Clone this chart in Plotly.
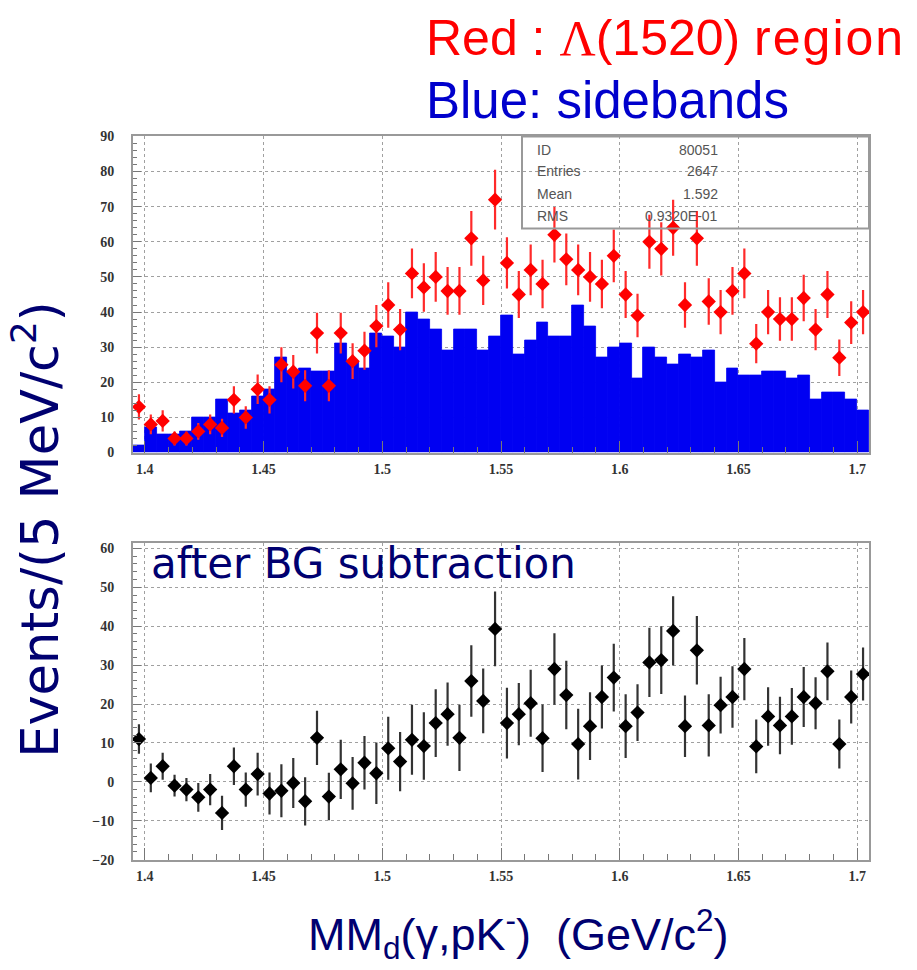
import numpy as np
import plotly.graph_objects as go

# ---- data ----
n_bins = 62
bin_lo = 1.395
bin_w = 0.005
mass = np.round(bin_lo + bin_w * (np.arange(n_bins) + 0.5), 4)

# red points: Lambda(1520) region (counts per bin)
red_counts = [13, 8, 9, 4, 4, 6, 8, 7, 15, 10,
              18, 15, 25, 23, 19, 34, 19, 34, 26, 29,
              36, 42, 35, 51, 47, 50, 46, 46, 61, 49,
              72, 54, 45, 52, 48, 62, 55, 52, 50, 48,
              56, 45, 39, 60, 58, 64, 42, 61, 43, 40,
              46, 51, 31, 40, 38, 38, 44, 35, 45, 27,
              37, 40]
red_err = [3.6, 2.8, 3.0, 2.0, 2.0, 2.4, 2.8, 2.6, 3.9, 3.2,
           4.2, 3.9, 5.0, 4.8, 4.4, 5.8, 4.4, 5.8, 5.1, 5.4,
           6.0, 6.5, 5.9, 7.1, 6.9, 7.1, 6.8, 6.8, 7.8, 7.0,
           8.5, 7.3, 6.7, 7.2, 6.9, 7.9, 7.4, 7.2, 7.1, 6.9,
           7.5, 6.7, 6.2, 7.7, 7.6, 8.0, 6.5, 7.8, 6.6, 6.3,
           6.8, 7.1, 5.6, 6.3, 6.2, 6.2, 6.6, 5.9, 6.7, 5.2,
           6.1, 6.3]

# blue histogram: sidebands
blue_counts = [2, 7, 5, 5, 6, 10, 10, 15, 11, 12,
               16, 18, 27, 23, 24, 23, 23, 31, 26, 24,
               34, 33, 30, 40, 38, 35, 29, 35, 35, 29,
               33, 39, 28, 32, 37, 33, 33, 42, 36, 27,
               30, 31, 21, 30, 27, 25, 28, 27, 29, 20,
               24, 22, 22, 23, 23, 21, 22, 15, 17, 17,
               15, 12]

# after BG subtraction
sub_counts = [11, 1, 4, -1, -2, -4, -2, -8, 4, -2,
              2, -3, -2.3, -0.3, -5, 11.3, -3.8, 3.2, -0.4, 4.9,
              2.2, 8.6, 5.2, 10.8, 9.2, 15.1, 17.4, 11.3, 25.9, 20.8,
              39.3, 15.1, 17.4, 20.2, 11.2, 29.0, 22.3, 9.7, 14.3, 21.8,
              26.8, 14.3, 17.8, 30.7, 31.3, 38.8, 14.3, 33.8, 14.5, 19.7,
              21.8, 29.0, 9.1, 16.8, 14.5, 16.8, 21.8, 20.2, 28.4, 9.7,
              21.8, 27.7]
sub_err = [3.8, 3.7, 3.5, 2.8, 3.0, 3.7, 4.0, 4.4, 4.8, 4.4,
           5.5, 5.4, 6.8, 6.4, 6.2, 7.0, 6.1, 7.6, 6.8, 6.9,
           7.9, 8.1, 7.6, 9.0, 8.7, 8.7, 8.1, 8.5, 9.2, 8.3,
           9.6, 9.1, 8.0, 8.6, 8.7, 9.2, 8.8, 9.1, 8.7, 8.1,
           8.7, 8.2, 7.3, 8.9, 8.7, 8.9, 7.9, 8.8, 8.0, 7.3,
           7.9, 8.0, 6.9, 7.5, 7.4, 7.3, 7.7, 6.7, 7.4, 6.3,
           6.8, 6.8]

x_tick_vals = [1.4, 1.45, 1.5, 1.55, 1.6, 1.65, 1.7]
x_tick_text = ["1.4", "1.45", "1.5", "1.55", "1.6", "1.65", "1.7"]
top_y_ticks = [0, 10, 20, 30, 40, 50, 60, 70, 80, 90]
bot_y_ticks = [-20, -10, 0, 10, 20, 30, 40, 50, 60]

stats_labels = ["ID", "Entries", "Mean", "RMS"]
stats_values = ["80051", "2647", "1.592", "0.9320E-01"]

# ---- figure ----
W, H = 917, 970
def px_x(p):
    return p / W
def px_y(p):
    return 1 - p / H

fig = go.Figure()

blue_col = "#0000f2"
fig.add_trace(go.Bar(
    x=mass, y=blue_counts, width=bin_w,
    marker=dict(color=blue_col, line=dict(width=0.8, color=blue_col)),
    xaxis="x", yaxis="y", hoverinfo="x+y"))

fig.add_trace(go.Scatter(
    x=mass, y=red_counts, mode="markers",
    marker=dict(symbol="diamond", size=11, color="#ff0000"),
    error_y=dict(type="data", array=red_err, color="#ff2a2a", thickness=2.2, width=0),
    xaxis="x", yaxis="y"))

fig.add_trace(go.Scatter(
    x=mass, y=sub_counts, mode="markers",
    marker=dict(symbol="diamond", size=11, color="#000000"),
    error_y=dict(type="data", array=sub_err, color="#333333", thickness=2.2, width=0),
    xaxis="x2", yaxis="y2"))

tickfont = dict(family="Liberation Serif", size=14, color="#333333", weight=700)
axis_common = dict(
    showline=True, linecolor="#999999", linewidth=2, mirror=True,
    showgrid=True, gridcolor="#a0a0a0", griddash="dot", gridwidth=1,
    zeroline=False, ticks="inside", tickcolor="#777777", tickfont=tickfont,
)

x_dom = [px_x(133), px_x(869)]
fig.update_layout(
    width=W, height=H,
    margin=dict(l=0, r=0, t=0, b=0),
    paper_bgcolor="white", plot_bgcolor="white",
    showlegend=False, bargap=0, barmode="overlay",
    xaxis=dict(domain=x_dom, range=[1.395, 1.705], anchor="y",
               tickvals=x_tick_vals, ticktext=x_tick_text, ticklen=12, tickwidth=1,
               minor=dict(dtick=0.01, tick0=1.4, ticklen=6, ticks="inside", tickcolor="#777777", showgrid=False),
               ticklabelstandoff=3, **axis_common),
    yaxis=dict(domain=[px_y(452.5), px_y(131.5)], range=[0, 90], anchor="x",
               tickvals=top_y_ticks, ticklen=8, tickwidth=1,
               minor=dict(dtick=2, ticklen=4, ticks="inside", tickcolor="#777777", showgrid=False),
               ticklabelstandoff=14, **axis_common),
    xaxis2=dict(domain=x_dom, range=[1.395, 1.705], anchor="y2",
                tickvals=x_tick_vals, ticktext=x_tick_text, ticklen=12, tickwidth=1,
                minor=dict(dtick=0.01, tick0=1.4, ticklen=6, ticks="inside", tickcolor="#777777", showgrid=False),
                ticklabelstandoff=3, **axis_common),
    yaxis2=dict(domain=[px_y(866), px_y(544)], range=[-20, 61.5], anchor="x2",
                tickvals=bot_y_ticks, ticklen=8, tickwidth=1,
                minor=dict(dtick=2, ticklen=4, ticks="inside", tickcolor="#777777", showgrid=False),
                ticklabelstandoff=14, **axis_common),
)

# stats box
fig.add_shape(type="rect", xref="paper", yref="paper",
              x0=px_x(522), x1=px_x(869), y0=px_y(225), y1=px_y(131.5),
              line=dict(color="#999999", width=2), fillcolor="rgba(0,0,0,0)")
row_y = [145, 167, 190, 212]
for lab, val, ry in zip(stats_labels, stats_values, row_y):
    fig.add_annotation(xref="paper", yref="paper", x=px_x(535), y=px_y(ry),
                       text=lab, showarrow=False, xanchor="left", yanchor="middle",
                       font=dict(family="Liberation Sans", size=14, color="#555555"))
    fig.add_annotation(xref="paper", yref="paper", x=px_x(720), y=px_y(ry),
                       text=val, showarrow=False, xanchor="right", yanchor="middle",
                       font=dict(family="Liberation Sans", size=14, color="#555555"))

navy = "#000070"
# titles
fig.add_annotation(xref="paper", yref="paper", x=px_x(424), y=px_y(31), xanchor="left", yanchor="middle",
                   text="Red : <span style=\"font-family:Liberation Serif\">Λ</span>(1520) "
                        "<span style=\"letter-spacing:2px\">region</span>",
                   showarrow=False, font=dict(family="Liberation Sans", size=50, color="#ff0000"))
fig.add_annotation(xref="paper", yref="paper", x=px_x(424), y=px_y(95), xanchor="left", yanchor="middle",
                   text="Blue: sidebands",
                   showarrow=False, font=dict(family="Liberation Sans", size=51, color="#0000cc"))
fig.add_annotation(xref="paper", yref="paper", x=px_x(149), y=px_y(565), xanchor="left", yanchor="middle",
                   text="after BG subtraction",
                   showarrow=False, font=dict(family="DejaVu Sans", size=42, color=navy))
fig.add_annotation(xref="paper", yref="paper", x=px_x(36), y=px_y(531), xanchor="center", yanchor="middle",
                   text="Events/(5 MeV/c<sup>2</sup>)", textangle=-90,
                   showarrow=False, font=dict(family="DejaVu Sans", size=51, color=navy))
fig.add_annotation(xref="paper", yref="paper", x=px_x(518), y=px_y(942), xanchor="center", yanchor="middle",
                   text="MM<sub>d</sub>(γ,pK<sup>-</sup>)  (GeV/c<sup>2</sup>)",
                   showarrow=False, font=dict(family="Liberation Sans", size=45, color=navy))

fig.write_html("out.html")
